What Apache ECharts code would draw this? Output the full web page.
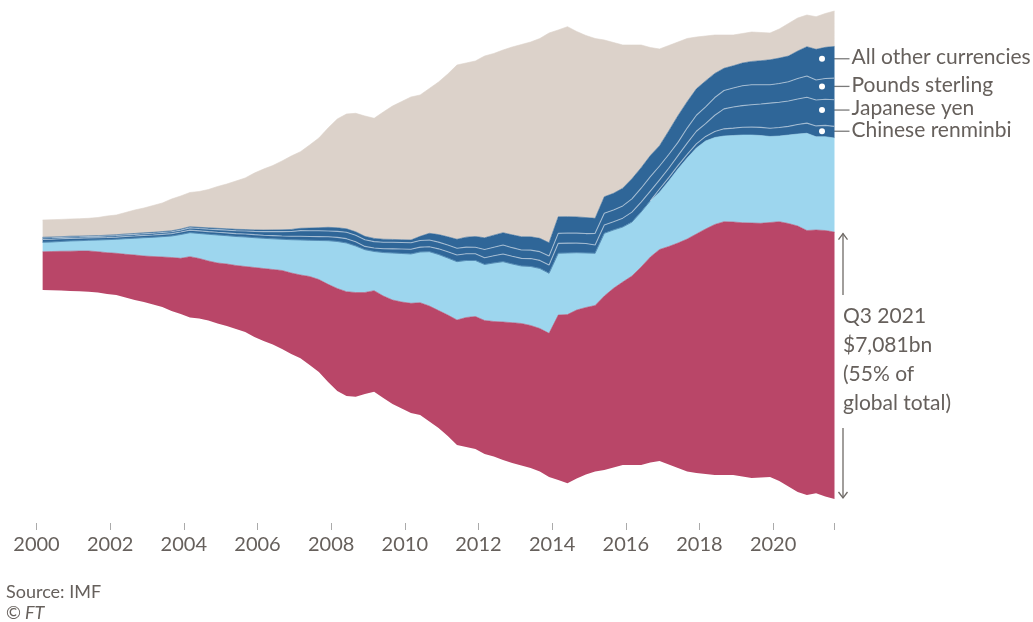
<!DOCTYPE html>
<html><head><meta charset="utf-8">
<script src="https://cdn.jsdelivr.net/npm/echarts@6/dist/echarts.min.js"></script>
<style>html,body{margin:0;padding:0;background:#fff;}#c{width:1033px;height:622px;}</style>
</head><body><div id="c"></div>
<script>
// Quarterly, Q1 2000 .. Q3 2021 (US$ bn)
const firstQuarter = 2000 + 2 / 12;
const quarterStep = 0.25;
const xTickYears = [2000, 2002, 2004, 2006, 2008, 2010, 2012, 2014, 2016, 2018, 2020];

const usDollars = [1016,1029,1043,1056,1069,1080,1082,1096,1106,1146,
  1194,1220,1273,1327,1419,1478,1613,1592,1579,1605,
  1645,1685,1738,1844,1923,1990,2083,2149,2210,2348,
  2454,2592,2719,2767,2764,2693,2680,2706,2759,2825,
  2910,2979,3064,3117,3210,3316,3436,3515,3542,3582,
  3661,3722,3767,3781,3794,3812,4377,4478,4470,4431,
  4404,4616,4754,4855,5014,5253,5452,5611,5784,5969,
  6168,6341,6500,6646,6720,6712,6733,6765,6744,6752,
  6879,6977,7057,7017,6985,7057,7081];
const euros = [249,252,260,271,273,284,310,345,371,414,
  443,486,509,539,570,631,637,663,708,743,
  751,769,783,791,801,814,828,883,929,960,
  1035,1157,1247,1292,1234,1135,1040,1154,1247,1287,
  1308,1345,1441,1486,1512,1547,1512,1486,1486,1552,
  1600,1557,1525,1565,1592,1592,1637,1632,1520,1446,
  1385,1663,1547,1459,1430,1460,1490,1520,1738,1963,
  2149,2282,2335,2308,2274,2295,2327,2335,2329,2282,
  2274,2348,2441,2579,2475,2489,2494];
const renminbi = [0,0,0,0,0,0,0,0,0,0, 0,0,0,0,0,0,0,0,0,0,
  0,0,0,0,0,0,0,0,0,0, 0,0,0,0,0,0,0,0,0,0,
  0,0,0,0,0,0,0,0,0,0, 0,0,0,0,0,0,0,0,0,0,
  0,0,0,0,0,0,0,85,88,90,
  95,110,121,160,190,195,205,212,215,218,
  225,230,250,270,287,300,310];
const yen = [76,74,72,70,68,64,60,58,58,59,
  60,61,61,62,63,65,68,70,72,73,
  74,76,78,80,82,85,88,92,98,100,
  102,106,110,115,112,88,92,100,110,118,
  125,130,133,150,165,178,178,178,178,190,
  204,204,204,210,215,220,265,262,255,250,
  220,220,220,235,265,262,258,240,250,265,
  300,333,340,430,530,560,575,590,620,668,
  670,672,680,685,687,695,708];
const sterling = [38,38,37,37,36,36,37,40,42,43,
  44,45,46,47,49,52,60,62,66,70,
  74,78,82,88,96,106,116,128,150,155,
  158,151,160,170,175,178,170,172,175,176,
  175,176,178,178,178,178,176,175,220,230,
  239,230,220,225,232,239,265,267,265,265,
  310,310,310,325,353,368,383,370,365,353,
  400,425,443,470,486,505,525,531,510,486,
  500,512,540,565,531,550,573];
const otherCurrencies = [20,20,19,19,18,18,19,21,22,23,
  24,25,26,26,27,28,31,32,34,35,
  36,37,38,39,42,45,48,52,62,70,
  80,98,95,92,90,88,85,80,75,72,
  72,110,177,200,220,239,265,284,310,318,
  326,340,353,353,353,353,440,436,430,425,
  398,440,443,470,531,545,560,540,625,708,
  700,700,690,640,590,590,605,618,640,663,
  672,682,730,777,814,825,841];
const unallocated = [458,460,458,457,462,465,482,509,523,570,
  623,657,711,758,843,877,907,950,1016,1109,
  1187,1281,1367,1509,1619,1709,1825,1949,2032,2204,
  2379,2635,2885,3045,3144,3193,3186,3376,3540,3667,
  3793,3750,3842,4048,4319,4623,4621,4656,4823,4820,
  4847,4983,5100,5168,5302,5563,4955,5039,4919,4830,
  4771,4159,4001,3799,3550,3255,2867,2564,2266,1954,
  1676,1376,1191,1019,883,816,783,781,748,710,
  772,863,877,841,865,898,939];

const n = usDollars.length;
const dates = [];
for (let i = 0; i < n; i++) dates.push(firstQuarter + i * quarterStep);

// centred (silhouette) layout: baseline = middle - total/2
const MID = 6500;
const layers = [usDollars, euros, renminbi, yen, sterling, otherCurrencies, unallocated];
const totals = dates.map((d, i) => layers.reduce((s, a) => s + a[i], 0));
const baseline = totals.map(t => MID - t / 2);
const cum = [baseline.slice()];
layers.forEach((a, k) => cum.push(cum[k].map((v, i) => v + a[i])));

const C_RED = '#b94668', C_LB = '#9dd6ee', C_DB = '#2f6698', C_TAN = '#dcd2ca';
const TXT = '#66605c';
const FONT = 'Lato';

// value first so that the stack is applied to the value (y) dimension
function pairsVY(arr) { return dates.map((d, i) => [arr[i], d]); }
function area(name, arr, color) {
  return { type: 'line', name, stack: 'all', data: pairsVY(arr), encode: { x: 1, y: 0 }, symbol: 'none', silent: true,
    lineStyle: { width: 0.6, color }, areaStyle: { color, opacity: 1 }, emphasis: { disabled: true } };
}
function sep(values, from) {
  const d = [];
  for (let i = from; i < n; i++) d.push([dates[i], values[i]]);
  return { type: 'line', data: d, symbol: 'none', silent: true, z: 5,
    lineStyle: { width: 1.1, color: 'rgba(255,255,255,0.5)' }, emphasis: { disabled: true } };
}

const chart = echarts.init(document.getElementById('c'), null, { renderer: 'canvas' });
const xMax = dates[n - 1];
const Y_MIN = -610, Y_MAX = 2 * MID;
chart.setOption({
  animation: false,
  backgroundColor: '#fff',
  grid: { left: 36.5, top: 10, width: 798, height: 513, containLabel: false, outerBoundsMode: 'none' },
  xAxis: { type: 'value', min: xTickYears[0], max: xMax, interval: 2,
    axisLine: { show: false, onZero: false }, splitLine: { show: false },
    axisTick: { show: true, inside: false, length: 7, lineStyle: { color: '#aaa', width: 1 } },
    axisLabel: { color: TXT, fontSize: 20, fontFamily: FONT, margin: 12,
      formatter: v => xTickYears.indexOf(v) >= 0 ? String(v) : '' } },
  yAxis: { type: 'value', min: Y_MIN, max: Y_MAX, show: false, splitLine: { show: false } },
  series: [
    { type: 'line', stack: 'all', data: pairsVY(baseline), encode: { x: 1, y: 0 }, symbol: 'none', silent: true,
      lineStyle: { opacity: 0, width: 0 } },
    area('US dollars', usDollars, C_RED),
    area('Euros', euros, C_LB),
    area('Chinese renminbi', renminbi, C_DB),
    area('Japanese yen', yen, C_DB),
    area('Pounds sterling', sterling, C_DB),
    area('All other currencies', otherCurrencies, C_DB),
    area('Unallocated', unallocated, C_TAN),
    sep(cum[3], 66),
    sep(cum[4], 0),
    sep(cum[5], 0)
  ]
});

function px(t, v) { return chart.convertToPixel({ xAxisIndex: 0, yAxisIndex: 0 }, [t, v]); }
const L = n - 1;
const endX = px(xMax, 0)[0];
const g = [];
function txt(x, y, s, opts) {
  g.push({ type: 'text', x, y, silent: true, style: Object.assign({ text: s, fill: TXT, font: '21px ' + FONT, align: 'left', verticalAlign: 'middle' }, opts || {}) });
}
// in-chart labels
txt(492, 143, 'Unallocated', { align: 'center' });
txt(738, 186, 'Euros', { align: 'center' });
txt(586, 394, 'US dollars', { align: 'center', fill: '#fff' });

// right-hand labels for the dark-blue bands: [label, index of the band's lower cumulative edge, pixel nudge]
const bandLabels = [
  ['All other currencies', 5, -3.5], ['Pounds sterling', 4, -2.5], ['Japanese yen', 3, -3], ['Chinese renminbi', 2, -1]
];
bandLabels.forEach(([name, k, nudge]) => {
  const mid = (cum[k][L] + cum[k + 1][L]) / 2;
  const y = px(xMax, mid)[1] + nudge;
  g.push({ type: 'circle', silent: true, shape: { cx: endX - 12.5, cy: y, r: 3 }, style: { fill: '#fff' }, z: 10 });
  g.push({ type: 'line', silent: true, shape: { x1: endX - 1, y1: y, x2: endX + 15, y2: y }, style: { stroke: '#7a7a7a', lineWidth: 1.3 } });
  txt(endX + 17, y - 1.5, name);
});

// US dollar bracket
const ax = endX + 8.5;
const yTop = px(xMax, cum[1][L])[1] + 1.5;
const yBot = px(xMax, cum[0][L])[1] - 1;
const AC = '#6f6a66';
g.push({ type: 'line', silent: true, shape: { x1: ax, y1: yTop, x2: ax, y2: 295 }, style: { stroke: AC, lineWidth: 1.3 } });
g.push({ type: 'polyline', silent: true, shape: { points: [[ax - 4.5, yTop + 6], [ax, yTop], [ax + 4.5, yTop + 6]] }, style: { stroke: AC, lineWidth: 1.3, fill: null } });
g.push({ type: 'line', silent: true, shape: { x1: ax, y1: 428, x2: ax, y2: yBot }, style: { stroke: AC, lineWidth: 1.3 } });
g.push({ type: 'polyline', silent: true, shape: { points: [[ax - 4.5, yBot - 6], [ax, yBot], [ax + 4.5, yBot - 6]] }, style: { stroke: AC, lineWidth: 1.3, fill: null } });
const usdShare = Math.round(usDollars[L] / totals[L] * 100);
['Q3 2021', '$' + usDollars[L].toLocaleString('en-US') + 'bn', '(' + usdShare + '% of', 'global total)']
  .forEach((s, i) => txt(ax, 316 + i * 29, s));

// source
txt(6, 592, 'Source: IMF', { font: '18px ' + FONT });
g.push({ type: 'text', x: 6, y: 613, silent: true, style: { text: '©', fill: TXT, font: '18px ' + FONT, verticalAlign: 'middle' } });
g.push({ type: 'text', x: 25, y: 613, silent: true, style: { text: 'FT', fill: TXT, font: 'italic 18px ' + FONT, verticalAlign: 'middle' } });

chart.setOption({ graphic: { elements: g } });
</script></body></html>
